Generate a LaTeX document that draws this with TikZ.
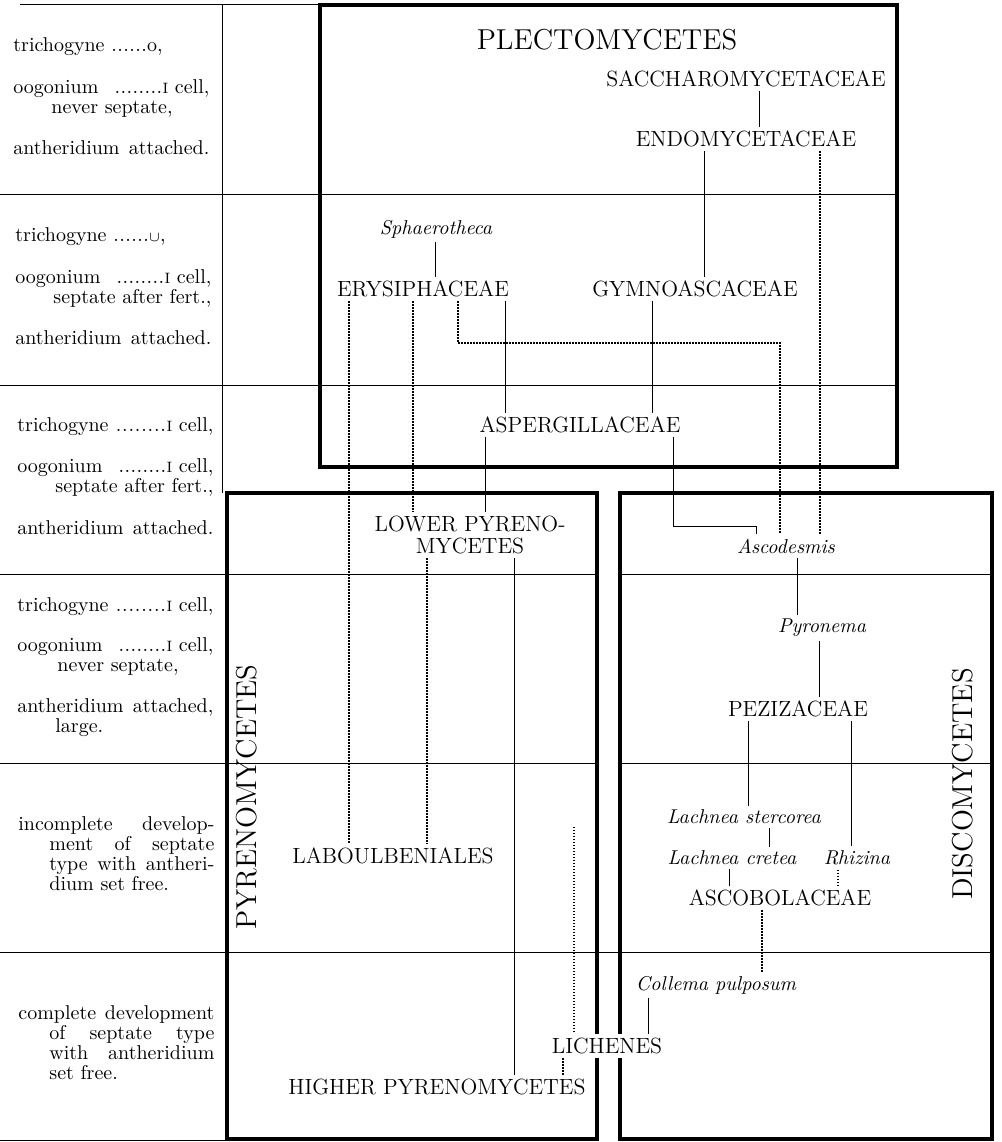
\documentclass[tikz,border=0pt]{standalone}
\usepackage{fontspec}
\usepackage{amsmath,amssymb}
\usepackage{tikz}
\setlength{\parindent}{0pt}
\tikzset{%
  trait/.style={anchor=north west, text width=98pt, inner sep=0pt, align=left,
    font=\fontsize{10}{10}\selectfont},% characters of a row
  traitpar/.style={trait, align=justify},% justified characters
  family/.style={inner sep=2pt, font=\fontsize{11}{11}\selectfont},% family in capitals
  genus/.style={inner sep=2pt, font=\fontsize{10}{10}\selectfont\itshape},% genus or species
  group/.style={inner sep=2pt, font=\Large},% name of a group
  rowline/.style={line width=0.5pt},% row divisions
  groupbox/.style={line width=2pt},% frame of a group
  solidlink/.style={line width=0.5pt},% sure descent
  dotlink/.style={line width=0.6pt, dash pattern=on 0.6pt off 0.9pt}% doubtful descent
}
\newcommand*{\cellone}{{\fontsize{7.5}{7.5}\selectfont I}}
\newcommand*{\dotrun}{\hbox to 18pt{\xleaders\hbox to 3pt{\hss.\hss}\hfill}}
\newcommand*{\dotfillrun}{\xleaders\hbox to 3pt{\hss.\hss}\hskip 18pt plus 1fill\relax}

\begin{document}
\begin{tikzpicture}[x=0.5pt, y=-0.5pt]
\useasboundingbox (0,0) rectangle (1002,1142);
% rows
\draw[rowline] (20,4) -- (320,4);
\draw[rowline] (222,4) -- (222,493);
\foreach \y in {194,385}
  \draw[rowline] (0,\y) -- (897,\y);
\foreach \y in {574,763}{
  \draw[rowline] (0,\y) -- (597,\y);
  \draw[rowline] (620,\y) -- (992,\y);
}
\draw[rowline] (0,952) -- (992,952);
\draw[rowline] (0,1140) -- (227,1140);
% groups
\draw[groupbox] (320,5) rectangle (897,467);
\draw[groupbox] (227,493) rectangle (597,1139);
\draw[groupbox] (620,493) rectangle (992,1139);

\node[trait] (row1) at (13,37) {trichogyne \dotrun o,\\[11pt]
  oogonium\hspace{8pt}\dotfillrun\cellone{} cell,\\
  \hspace*{19pt}never septate,\\[10.5pt]
  antheridium\hfill attached.};
\node[trait] (row2) at (15,227) {trichogyne \dotrun$\scriptstyle\cup$,\\[11pt]
  oogonium\hspace{8pt}\dotfillrun\cellone{} cell,\\
  \hspace*{\fill}septate after fert.,\\[10.5pt]
  antheridium\hfill attached.};
\node[trait] (row3) at (17,417) {trichogyne \dotfillrun\cellone{} cell,\\[10.5pt]
  oogonium\hspace{8pt}\dotfillrun\cellone{} cell,\\
  \hspace*{\fill}septate after fert.,\\[11pt]
  antheridium\hfill attached.};
\node[trait] (row4) at (17,597) {trichogyne \dotfillrun\cellone{} cell,\\[10pt]
  oogonium\hspace{8pt}\dotfillrun\cellone{} cell,\\
  \hspace*{20pt}never septate,\\[10.5pt]
  antheridium\hfill attached,\\
  \hspace*{19pt}large.};
\node[traitpar] (row5) at (18,816) {\hangindent=15.5pt incomplete develop-\linebreak
  ment of septate\linebreak type with antheri-\linebreak dium set free.\par};
\node[traitpar] (row6) at (18,1005) {\hangindent=15.5pt complete development\linebreak
  of septate type\linebreak with antheridium\linebreak set free.\par};

\node[group] (plecto) at (607,40) {PLECTOMYCETES};
\node[group, rotate=90] (pyreno) at (247,797) {PYRENOMYCETES};
\node[group, rotate=90] (disco) at (963,784) {DISCOMYCETES};

\node[family] (sacch) at (746,79) {SACCHAROMYCETACEAE};
\node[family] (endo) at (746,139) {ENDOMYCETACEAE};
\node[genus] (sphaer) at (436,229) {Sphaerotheca};
\node[family] (erys) at (423,289) {ERYSIPHACEAE};
\node[family] (gymno) at (695,289) {GYMNOASCACEAE};
\node[family] (asper) at (580,425) {ASPERGILLACEAE};
\node[family, align=center] (lowerpy) at (470,535) {LOWER PYRENO-\\MYCETES};
\node[family] (laboul) at (393,856) {LABOULBENIALES};
\node[family] (higherpy) at (437,1087) {HIGHER PYRENOMYCETES};
\node[genus] (ascod) at (786,546) {Ascodesmis};
\node[genus] (pyron) at (822,628) {Pyronema};
\node[family] (peziz) at (798,709) {PEZIZACEAE};
\node[genus] (lster) at (744,817) {Lachnea stercorea};
\node[genus] (lcret) at (732,858) {Lachnea cretea};
\node[genus] (rhiz) at (857,858) {Rhizina};
\node[family] (ascob) at (780,898) {ASCOBOLACEAE};
\node[genus] (collema) at (716,985) {Collema pulposum};
\node[family, fill=white] (lichen) at (607,1046) {LICHENES};
\coordinate (lichtop) at (574,827);

% plectomycetes
\draw[solidlink] (sacch.south -| 759,0) -- (endo.north -| 759,0);
\draw[solidlink] (endo.south -| 704,0) -- (gymno.north -| 704,0);
\draw[solidlink] (sphaer.south -| 435,0) -- (erys.north -| 435,0);
\draw[solidlink] (erys.south -| 505,0) -- (asper.north -| 505,0);
\draw[solidlink] (gymno.south -| 652,0) -- (asper.north -| 652,0);
\draw[dotlink] (endo.south -| 820,0) -- (ascod.north -| 820,0);
\draw[dotlink] (erys.south -| 458,0) |- (780,343) -- (ascod.north -| 780,0);
% pyrenomycetes
\draw[solidlink] (asper.south -| 485,0) -- (lowerpy.north -| 485,0);
\draw[solidlink] (lowerpy.south -| 514,0) -- (higherpy.north -| 514,0);
\draw[dotlink] (erys.south -| 349,0) -- (laboul.north -| 349,0);
\draw[dotlink] (erys.south -| 413,0) -- (lowerpy.north -| 413,0);
\draw[dotlink] (lowerpy.south -| 427,0) -- (laboul.north -| 427,0);
% discomycetes
\draw[solidlink] (asper.south -| 673,0) |- (756,526) -- (ascod.north -| 756,0);
\draw[solidlink] (ascod.south -| 797,0) -- (pyron.north -| 797,0);
\draw[solidlink] (pyron.south -| 819,0) -- (peziz.north -| 819,0);
\draw[solidlink] (peziz.south -| 748,0) -- (lster.north -| 748,0);
\draw[solidlink] (peziz.south -| 851,0) -- (rhiz.north -| 851,0);
\draw[solidlink] (lster.south -| 769,0) -- (lcret.north -| 769,0);
\draw[solidlink] (lcret.south -| 729,0) -- (ascob.north -| 729,0);
\draw[dotlink] (rhiz.south -| 838,0) -- (ascob.north -| 838,0);
\draw[dotlink] (ascob.south -| 762,0) -- (collema.north -| 762,0);
% lichenes
\draw[solidlink] (collema.south -| 648,0) -- (lichen.north -| 648,0);
\draw[dotlink] (lichtop) -- (lichen.north -| lichtop);
\draw[dotlink] (lichen.south -| 563,0) -- (higherpy.north -| 563,0);
\end{tikzpicture}
\end{document}
